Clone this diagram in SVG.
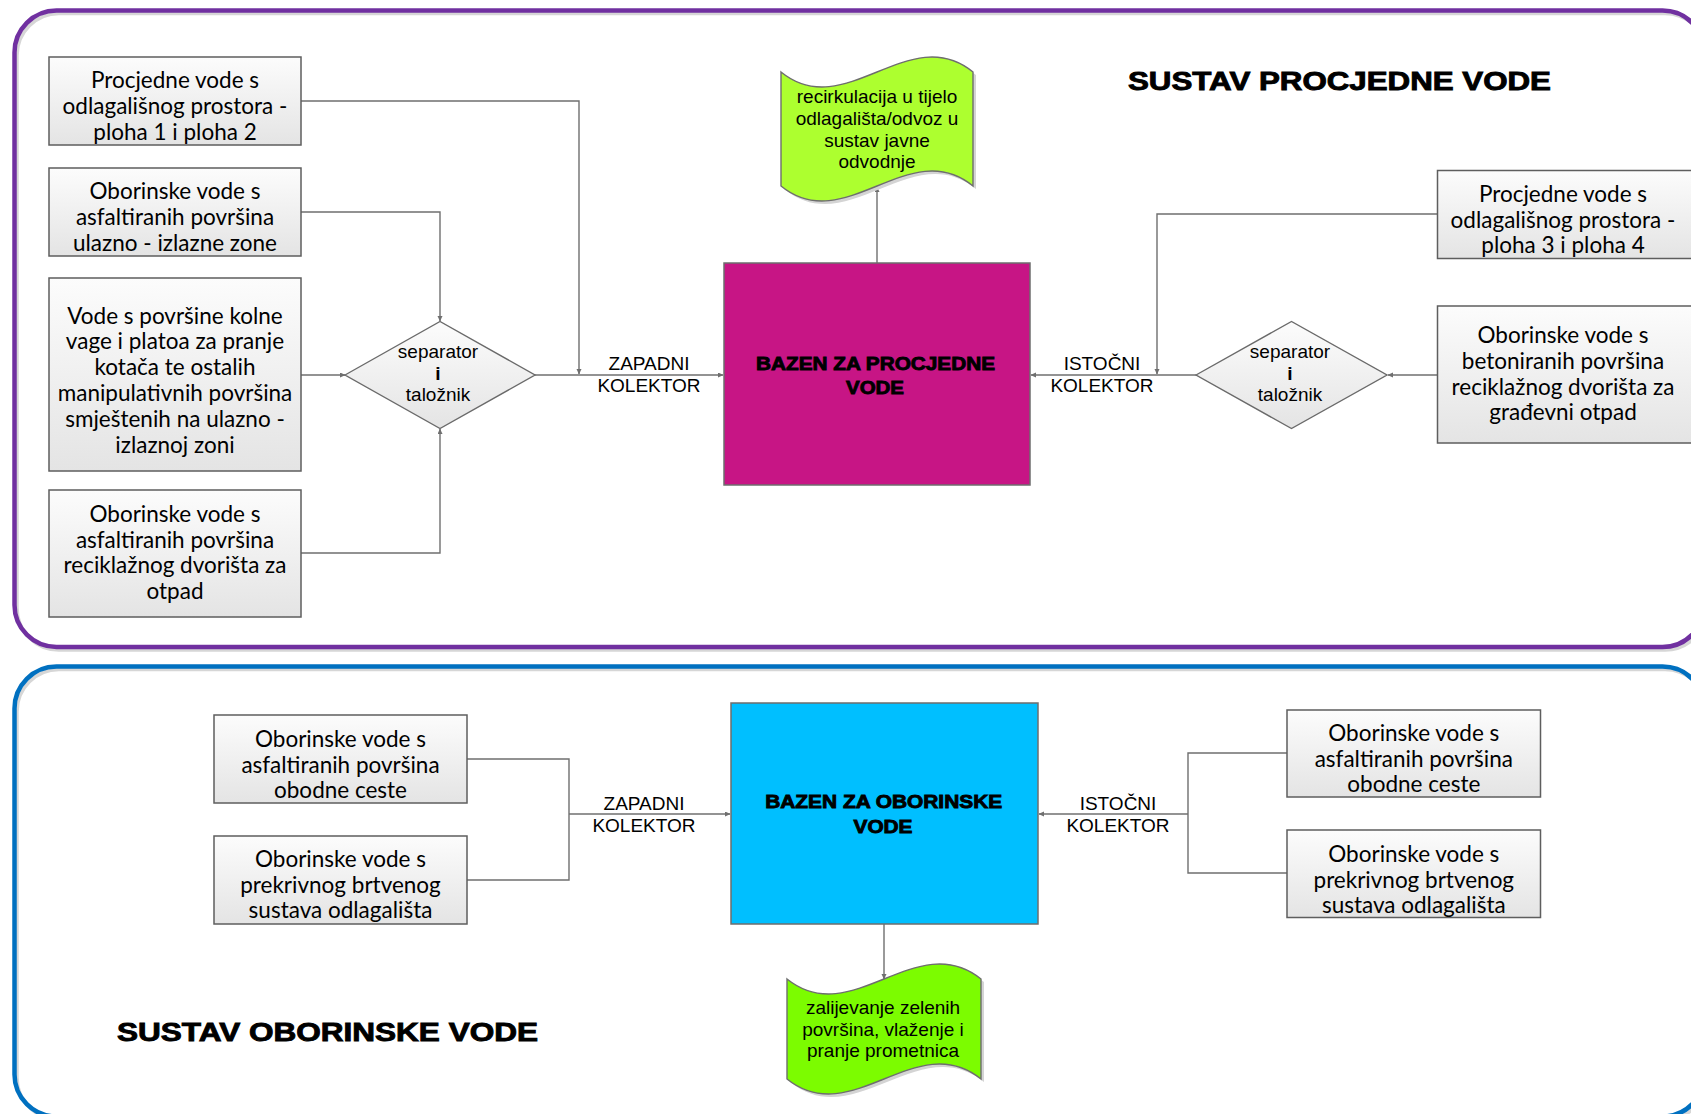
<svg xmlns="http://www.w3.org/2000/svg" width="1691" height="1114" viewBox="0 0 1691 1114">
  <defs>
    <linearGradient id="boxFill" x1="0" y1="0" x2="0" y2="1">
      <stop offset="0" stop-color="#fcfcfc"/>
      <stop offset="1" stop-color="#e4e4e4"/>
    </linearGradient>
    <marker id="arr" markerUnits="userSpaceOnUse" markerWidth="7" markerHeight="6" refX="5" refY="2.5" orient="auto">
      <path d="M0,0 L5.5,2.5 L0,5 z" fill="#6f6f6f"/>
    </marker>
    <style>
      .frame-shadow { fill: none; stroke: #d6d6d6; stroke-width: 3.5; }
      .frame-p { fill: none; stroke: #7030a0; stroke-width: 4.5; }
      .frame-b { fill: none; stroke: #0070c0; stroke-width: 4.5; }
      .box { fill: url(#boxFill); stroke: #5e5e5e; stroke-width: 1.5; }
      .dia { fill: url(#boxFill); stroke: #6a6a6a; stroke-width: 1.4; }
      .tank { stroke: #6e6e6e; stroke-width: 1.5; }
      .tape { stroke: #6e6e6e; stroke-width: 1.4; }
      .tape-shadow { fill: #d4d4d4; stroke: none; }
      .conn { fill: none; stroke: #6f6f6f; stroke-width: 1.4; }
      .bt { font-family: Lato, "Liberation Sans", sans-serif; font-size: 22.5px; fill: #000; text-anchor: middle; }
      .lbl { font-family: "Liberation Sans", Arial, sans-serif; font-size: 19px; fill: #000; text-anchor: middle; }
      .heavy { font-family: "Liberation Sans", Arial, sans-serif; font-weight: bold; fill: #000; stroke: #000; stroke-width: 0.9; }
    </style>
  </defs>

  <rect width="1691" height="1114" fill="#ffffff"/>

  <!-- system frames -->
  <g id="frame-procjedne">
    <rect class="frame-shadow" x="17" y="13.5" width="1690" height="636.5" rx="42"/>
    <rect class="frame-p" x="14.5" y="10.5" width="1690" height="636.5" rx="42"/>
  </g>
  <g id="frame-oborinske">
    <rect class="frame-shadow" x="17" y="669.5" width="1690" height="450" rx="42"/>
    <rect class="frame-b" x="14.5" y="666.5" width="1690" height="450" rx="42"/>
  </g>

  <!-- connectors -->
  <g id="connectors">
    <polyline class="conn" points="301,101 579,101 579,374" marker-end="url(#arr)"/>
    <polyline class="conn" points="301,212 440,212 440,321" marker-end="url(#arr)"/>
    <polyline class="conn" points="301,375 345,375" marker-end="url(#arr)"/>
    <polyline class="conn" points="301,553 440,553 440,429" marker-end="url(#arr)"/>
    <polyline class="conn" points="535,375 723,375" marker-end="url(#arr)"/>
    <polyline class="conn" points="1437,214 1157,214 1157,374" marker-end="url(#arr)"/>
    <polyline class="conn" points="1437,375 1388,375" marker-end="url(#arr)"/>
    <polyline class="conn" points="1196,375 1031,375" marker-end="url(#arr)"/>
    <polyline class="conn" points="877,263 877,187" marker-end="url(#arr)"/>

    <polyline class="conn" points="467,759 569,759 569,880 467,880"/>
    <polyline class="conn" points="569,814 730,814" marker-end="url(#arr)"/>
    <polyline class="conn" points="1287,753 1188,753 1188,873 1287,873"/>
    <polyline class="conn" points="1188,814 1039,814" marker-end="url(#arr)"/>
    <polyline class="conn" points="884,924 884,979" marker-end="url(#arr)"/>
  </g>

  <!-- connector labels -->
  <g id="labels">
    <text class="lbl" x="649" y="370">ZAPADNI</text>
    <text class="lbl" x="649" y="392">KOLEKTOR</text>
    <text class="lbl" x="1102" y="370">ISTOČNI</text>
    <text class="lbl" x="1102" y="392">KOLEKTOR</text>
    <text class="lbl" x="644" y="810">ZAPADNI</text>
    <text class="lbl" x="644" y="832">KOLEKTOR</text>
    <text class="lbl" x="1118" y="810">ISTOČNI</text>
    <text class="lbl" x="1118" y="832">KOLEKTOR</text>
  </g>

  <!-- titles -->
  <text id="title-procjedne" class="heavy" x="1128" y="90" font-size="25.5" textLength="423" lengthAdjust="spacingAndGlyphs">SUSTAV PROCJEDNE VODE</text>
  <text id="title-oborinske" class="heavy" x="117" y="1041" font-size="25.5" textLength="421" lengthAdjust="spacingAndGlyphs">SUSTAV OBORINSKE VODE</text>

  <!-- leachate system: western inputs -->
  <g id="a1">
    <rect class="box" x="49" y="57" width="252" height="88"/>
    <text class="bt" x="175" y="88">Procjedne vode s</text>
    <text class="bt" x="175" y="114">odlagališnog prostora -</text>
    <text class="bt" x="175" y="140">ploha 1 i ploha 2</text>
  </g>
  <g id="a2">
    <rect class="box" x="49" y="168" width="252" height="88"/>
    <text class="bt" x="175" y="199">Oborinske vode s</text>
    <text class="bt" x="175" y="225">asfaltiranih površina</text>
    <text class="bt" x="175" y="251">ulazno - izlazne zone</text>
  </g>
  <g id="a3">
    <rect class="box" x="49" y="278" width="252" height="193"/>
    <text class="bt" x="175" y="323.5">Vode s površine kolne</text>
    <text class="bt" x="175" y="349.3">vage i platoa za pranje</text>
    <text class="bt" x="175" y="375">kotača te ostalih</text>
    <text class="bt" x="175" y="401">manipulativnih površina</text>
    <text class="bt" x="175" y="427">smještenih na ulazno -</text>
    <text class="bt" x="175" y="452.5">izlaznoj zoni</text>
  </g>
  <g id="a4">
    <rect class="box" x="49" y="490" width="252" height="127"/>
    <text class="bt" x="175" y="522">Oborinske vode s</text>
    <text class="bt" x="175" y="547.5">asfaltiranih površina</text>
    <text class="bt" x="175" y="573">reciklažnog dvorišta za</text>
    <text class="bt" x="175" y="598.5">otpad</text>
  </g>
  <g id="sep-west">
    <polygon class="dia" points="345,375 440,321.5 535,375 440,428.5"/>
    <text class="lbl" x="438" y="358">separator</text>
    <text class="lbl" x="438" y="379.5" font-weight="bold">i</text>
    <text class="lbl" x="438" y="401">taložnik</text>
  </g>

  <!-- leachate basin and outlet -->
  <g id="bazen-procjedne">
    <rect class="tank" x="724" y="263" width="306" height="222" fill="#c71585"/>
    <text class="heavy" x="875.5" y="370" font-size="19" text-anchor="middle" textLength="239" lengthAdjust="spacingAndGlyphs">BAZEN ZA PROCJEDNE</text>
    <text class="heavy" x="875" y="394" font-size="19" text-anchor="middle" textLength="58" lengthAdjust="spacingAndGlyphs">VODE</text>
  </g>
  <g id="recirkulacija">
    <path class="tape-shadow" d="M784,75 C848,127 912,23 976,75 L976,189 C912,137 848,241 784,189 Z"/>
    <path class="tape" fill="#adff2f" d="M781,72 C845,124 909,20 973,72 L973,186 C909,134 845,238 781,186 Z"/>
    <text class="lbl" x="877" y="103.3">recirkulacija u tijelo</text>
    <text class="lbl" x="877" y="125">odlagališta/odvoz u</text>
    <text class="lbl" x="877" y="146.7">sustav javne</text>
    <text class="lbl" x="877" y="168.3">odvodnje</text>
  </g>

  <!-- leachate system: eastern inputs -->
  <g id="b1">
    <rect class="box" x="1437.5" y="170.5" width="256" height="88"/>
    <text class="bt" x="1563" y="201.5">Procjedne vode s</text>
    <text class="bt" x="1563" y="227.5">odlagališnog prostora -</text>
    <text class="bt" x="1563" y="253.3">ploha 3 i ploha 4</text>
  </g>
  <g id="b2">
    <rect class="box" x="1437.5" y="306" width="256" height="137"/>
    <text class="bt" x="1563" y="343.3">Oborinske vode s</text>
    <text class="bt" x="1563" y="369">betoniranih površina</text>
    <text class="bt" x="1563" y="394.6">reciklažnog dvorišta za</text>
    <text class="bt" x="1563" y="420.2">građevni otpad</text>
  </g>
  <g id="sep-east">
    <polygon class="dia" points="1196,375 1291.5,321.5 1387,375 1291.5,428.5"/>
    <text class="lbl" x="1290" y="358">separator</text>
    <text class="lbl" x="1290" y="379.5" font-weight="bold">i</text>
    <text class="lbl" x="1290" y="401">taložnik</text>
  </g>

  <!-- stormwater system -->
  <g id="c1">
    <rect class="box" x="214" y="715" width="253" height="88"/>
    <text class="bt" x="340.5" y="746.7">Oborinske vode s</text>
    <text class="bt" x="340.5" y="772.5">asfaltiranih površina</text>
    <text class="bt" x="340.5" y="798.3">obodne ceste</text>
  </g>
  <g id="c2">
    <rect class="box" x="214" y="836" width="253" height="88"/>
    <text class="bt" x="340.5" y="866.7">Oborinske vode s</text>
    <text class="bt" x="340.5" y="892.5">prekrivnog brtvenog</text>
    <text class="bt" x="340.5" y="918.3">sustava odlagališta</text>
  </g>
  <g id="bazen-oborinske">
    <rect class="tank" x="731" y="703" width="307" height="221" fill="#00bfff"/>
    <text class="heavy" x="883.7" y="808.3" font-size="19" text-anchor="middle" textLength="237" lengthAdjust="spacingAndGlyphs">BAZEN ZA OBORINSKE</text>
    <text class="heavy" x="883" y="833.3" font-size="19" text-anchor="middle" textLength="59" lengthAdjust="spacingAndGlyphs">VODE</text>
  </g>
  <g id="zalijevanje">
    <path class="tape-shadow" d="M790,982 C855,1034 919,930 984,982 L984,1082 C919,1030 855,1134 790,1082 Z"/>
    <path class="tape" fill="#7cfc00" d="M787,979 C852,1031 916,927 981,979 L981,1079 C916,1027 852,1131 787,1079 Z"/>
    <text class="lbl" x="883" y="1014">zalijevanje zelenih</text>
    <text class="lbl" x="883" y="1036">površina, vlaženje i</text>
    <text class="lbl" x="883" y="1057.3">pranje prometnica</text>
  </g>
  <g id="d1">
    <rect class="box" x="1287" y="710" width="253.5" height="87"/>
    <text class="bt" x="1413.8" y="740.7">Oborinske vode s</text>
    <text class="bt" x="1413.8" y="766.5">asfaltiranih površina</text>
    <text class="bt" x="1413.8" y="792.2">obodne ceste</text>
  </g>
  <g id="d2">
    <rect class="box" x="1287" y="830" width="253.5" height="87.5"/>
    <text class="bt" x="1413.8" y="861.7">Oborinske vode s</text>
    <text class="bt" x="1413.8" y="887.5">prekrivnog brtvenog</text>
    <text class="bt" x="1413.8" y="913.2">sustava odlagališta</text>
  </g>
</svg>
